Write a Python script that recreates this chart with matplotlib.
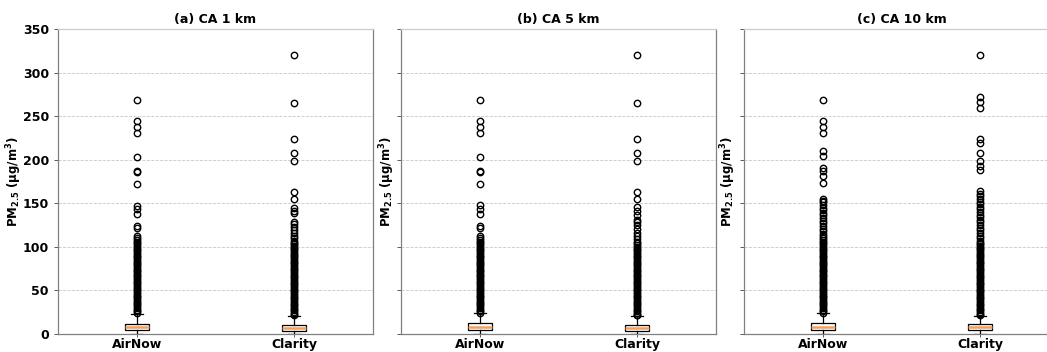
import numpy as np
import matplotlib
matplotlib.use("Agg")
import matplotlib.pyplot as plt

# panels / groups
panels = ["(a) CA 1 km", "(b) CA 5 km", "(c) CA 10 km"]
groups = ["AirNow", "Clarity"]

# box summaries: [whislo, q1, median, q3, whishi]
airnow_box = [[0.5, 4.6, 7.5, 11.5, 23.0],
              [0.5, 4.2, 7.5, 12.2, 23.7],
              [0.5, 4.2, 8.0, 13.0, 23.7]]
clarity_box = [[0.5, 3.8, 7.0, 10.3, 20.7],
               [0.5, 3.8, 7.0, 10.3, 20.7],
               [0.5, 4.2, 7.5, 11.5, 20.7]]

# outliers: sparse ones read point by point, dense columns read as a run of points
airnow_1km = [268, 244, 237, 231, 203, 187, 186, 172, 147, 144, 138, 124, 122, 112,
              110, 108, 106, 104, 102, 100, 98, 96, 94, 92, 90, 88, 86, 84, 82, 80,
              78, 76, 74, 72, 70, 68, 66, 64, 62, 60, 58, 56, 54, 52, 50, 48, 46, 44,
              42, 40, 38, 36, 34, 32, 30, 28, 26, 24]
clarity_1km = [320, 265, 224, 208, 199, 163, 155, 145, 141, 139, 129, 126, 123, 119,
               116, 113, 110, 107, 105, 103, 101, 99, 97, 95, 93, 91, 89, 87, 85, 83,
               81, 79, 77, 75, 73, 71, 69, 67, 65, 63, 61, 59, 57, 55, 53, 51, 49, 47,
               45, 43, 41, 39, 37, 35, 33, 31, 29, 27, 25, 23, 21.5]
airnow_5km = [268, 244, 238, 231, 203, 187, 186, 172, 148, 143, 138, 124, 122, 112,
              110, 108, 106, 104, 102, 100, 98, 96, 94, 92, 90, 88, 86, 84, 82, 80,
              78, 76, 74, 72, 70, 68, 66, 64, 62, 60, 58, 56, 54, 52, 50, 48, 46, 44,
              42, 40, 38, 36, 34, 32, 30, 28, 26, 24.5]
clarity_5km = [320, 265, 224, 208, 199, 163, 155, 146, 141, 137, 131, 128, 125, 121,
               116, 113, 109, 106, 104, 102, 100, 98, 96, 94, 92, 90, 88, 86, 84, 82,
               80, 78, 76, 74, 72, 70, 68, 66, 64, 62, 60, 58, 56, 54, 52, 50, 48, 46,
               44, 42, 40, 38, 36, 34, 32, 30, 28, 26, 24, 22, 21.5]
airnow_10km = [268, 244, 238, 231, 210, 204, 191, 187, 181, 173,
               155, 153, 151, 148, 145, 142, 139, 136, 133, 130, 127, 124, 121, 118,
               115, 112, 110, 108, 106, 104, 102, 100, 98, 96, 94, 92, 90, 88, 86, 84,
               82, 80, 78, 76, 74, 72, 70, 68, 66, 64, 62, 60, 58, 56, 54, 52, 50, 48,
               46, 44, 42, 40, 38, 36, 34, 32, 30, 28, 26, 24.5]
clarity_10km = [320, 272, 266, 259, 224, 219, 208, 199, 193, 188, 164, 161,
                158, 155, 152, 149, 146, 143, 140, 137, 134, 131, 128, 125, 122, 119,
                116, 113, 110, 107, 105, 103, 101, 99, 97, 95, 93, 91, 89, 87, 85, 83,
                81, 79, 77, 75, 73, 71, 69, 67, 65, 63, 61, 59, 57, 55, 53, 51, 49, 47,
                45, 43, 41, 39, 37, 35, 33, 31, 29, 27, 25, 23, 21.5]

airnow_fliers = [airnow_1km, airnow_5km, airnow_10km]
clarity_fliers = [clarity_1km, clarity_5km, clarity_10km]

yticks = [0, 50, 100, 150, 200, 250, 300, 350]

plt.rcParams['font.family'] = ['DejaVu Sans']
plt.rcParams['mathtext.default'] = 'bf'

fig = plt.figure(figsize=(10.47, 3.52), dpi=100)
W, H = 1047.0, 352.0
lefts = [58, 401, 744]
label_x = [-0.108, -0.014, -0.019]

def make_stats(box, fl, label):
    return dict(whislo=box[0], q1=box[1], med=box[2], q3=box[3], whishi=box[4],
                fliers=np.array(fl, dtype=float), label=label)

for i in range(3):
    ax = fig.add_axes([lefts[i] / W, 18 / H, 315 / W, 305 / H])
    stats = [make_stats(airnow_box[i], airnow_fliers[i], groups[0]),
             make_stats(clarity_box[i], clarity_fliers[i], groups[1])]
    ax.bxp(stats, positions=[1, 2], widths=0.15, patch_artist=True,
           boxprops=dict(facecolor='white', edgecolor='black', linewidth=0.9),
           medianprops=dict(color='#f5a05a', linewidth=1.8),
           whiskerprops=dict(color='black', linewidth=0.9),
           capprops=dict(color='black', linewidth=0.9),
           flierprops=dict(marker='o', markersize=4.6, markerfacecolor='none',
                           markeredgecolor='black', markeredgewidth=1.0))
    ax.set_xlim(0.5, 2.5)
    ax.set_ylim(0, 350)
    ax.set_yticks(yticks)
    ax.yaxis.grid(True, linestyle='--', color='#c8c8c8', linewidth=0.6)
    ax.set_axisbelow(True)
    ax.set_title(panels[i], fontsize=9, fontweight='bold', pad=4)
    ax.set_ylabel(r'PM$_{2.5}$ ($\mu$g/m$^3$)', fontsize=8.5, fontweight='bold')
    ax.yaxis.set_label_coords(label_x[i], 0.5)
    ax.tick_params(axis='y', labelsize=9, length=3, width=0.7, color='0.35')
    ax.tick_params(axis='x', labelsize=9, length=2, width=0.7, color='0.35', pad=1)
    for lab in ax.get_xticklabels() + ax.get_yticklabels():
        lab.set_fontweight('bold')
    if i > 0:
        ax.tick_params(axis='y', labelleft=False)
    for s in ax.spines.values():
        s.set_color('0.5')
        s.set_linewidth(0.9)
    ax.spines['top'].set_color('0.8')

fig.savefig('out.png', dpi=100)
